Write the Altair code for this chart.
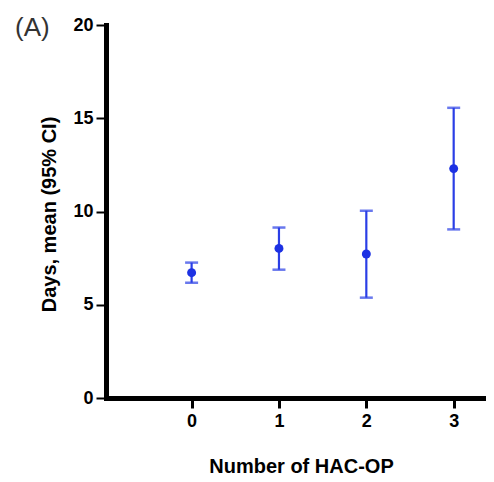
import altair as alt
import pandas as pd

n_hac = [0, 1, 2, 3]
mean_days = [6.72, 8.02, 7.72, 12.30]
ci_lower = [6.18, 6.88, 5.38, 9.04]
ci_upper = [7.26, 9.14, 10.04, 15.56]

df = pd.DataFrame({"n": n_hac, "mean": mean_days, "lo": ci_lower, "hi": ci_upper})

FONT = "Liberation Sans"
LINE = "#2a3ee6"
PT = "#1d31e3"

xs = alt.Scale(domain=[-0.98, 3.37], nice=False, zero=False)
ys = alt.Scale(domain=[0, 20], nice=False)

xaxis = alt.Axis(values=[0, 1, 2, 3], format="d", grid=False,
                 domainWidth=5, domainColor="black", domainCap="square",
                 tickWidth=3, tickSize=10, tickColor="black",
                 labelFont=FONT, labelFontWeight="bold", labelFontSize=18,
                 labelColor="black", labelPadding=4,
                 title="Number of HAC-OP", titleFont=FONT, titleFontWeight="bold",
                 titleFontSize=20, titleColor="black", titlePadding=26, titleX=195)
yaxis = alt.Axis(values=[0, 5, 10, 15, 20], grid=False,
                 domainWidth=5, domainColor="black", domainCap="square",
                 tickWidth=2, tickSize=10, tickColor="black",
                 labelFont=FONT, labelFontWeight="bold", labelFontSize=18,
                 labelColor="black", labelPadding=3,
                 title="Days, mean (95% CI)", titleFont=FONT, titleFontWeight="bold",
                 titleFontSize=20, titleColor="black",
                 titleX=-51, titleY=189, titleBaseline="alphabetic")

base = alt.Chart(df)
rule = base.mark_rule(color=LINE, strokeWidth=2.2).encode(
    x=alt.X("n:Q", scale=xs, axis=xaxis),
    y=alt.Y("lo:Q", scale=ys, axis=yaxis),
    y2="hi:Q",
)
cap_lo = base.mark_tick(orient="horizontal", size=13, thickness=2.5, color=LINE).encode(
    x=alt.X("n:Q", scale=xs), y=alt.Y("lo:Q", scale=ys))
cap_hi = base.mark_tick(orient="horizontal", size=13, thickness=2.5, color=LINE).encode(
    x=alt.X("n:Q", scale=xs), y=alt.Y("hi:Q", scale=ys))
pts = base.mark_point(filled=True, size=80, opacity=1, color=PT).encode(
    x=alt.X("n:Q", scale=xs), y=alt.Y("mean:Q", scale=ys))

chart = alt.layer(rule, cap_lo, cap_hi, pts).properties(
    width=380, height=373,
    padding={"left": 98, "top": 17, "right": 0, "bottom": 80},
    autosize=alt.AutoSizeParams(type="none"),
    title=alt.TitleParams("(A)", anchor="start", frame="group", font=FONT,
                          fontSize=26, fontWeight="normal", color="#333333",
                          dx=-91, dy=46, offset=0, baseline="alphabetic"),
).configure_view(strokeWidth=0)

chart.save("out.html", embed_options={"renderer": "svg", "actions": False})
